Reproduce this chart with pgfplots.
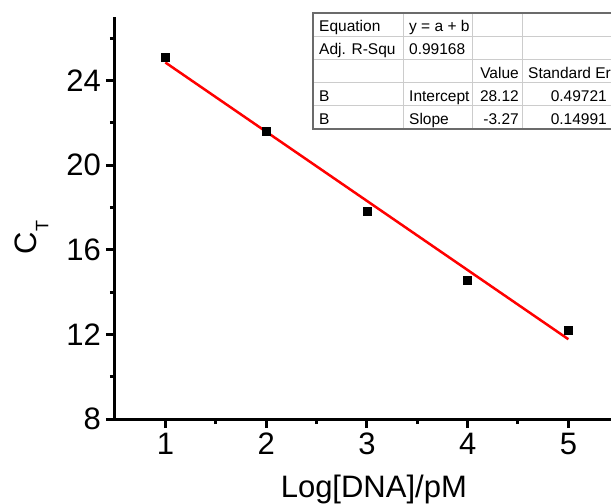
\documentclass[border=0pt]{standalone}
\usepackage{fontspec}
\setmainfont{Liberation Sans}
\usepackage{pgfplots}
\pgfplotsset{compat=1.18}
\definecolor{tabdark}{gray}{0.42}
\definecolor{tabgrid}{gray}{0.80}
\newcommand{\bigfont}{\fontsize{31bp}{36bp}\selectfont}
\newcommand{\tabfont}{\fontsize{15.5bp}{18bp}\selectfont}
\begin{document}
\begin{tikzpicture}
\useasboundingbox (-115bp,-85bp) rectangle (496bp,419bp);
\clip (-115bp,-85bp) rectangle (496bp,419bp);
\begin{axis}[
    scale only axis,
    width=498.7bp, height=402bp,
    xmin=0.5, xmax=5.45, ymin=8, ymax=27,
    axis x line*=bottom, axis y line*=left,
    axis line style={-, line width=3bp},
    xtick={1,2,3,4,5}, ytick={8,12,16,20,24},
    minor xtick={1.5,2.5,3.5,4.5}, minor ytick={10,14,18,22,26},
    tick align=outside, major tick length=9bp, minor tick length=5bp,
    every tick/.style={black, line width=3bp},
    tick label style={font=\bigfont, inner sep=0pt},
    xticklabel style={anchor=north, yshift=-5bp},
    yticklabel style={anchor=east, xshift=-5bp},
    /pgf/number format/assume math mode=true,
    xlabel={Log[DNA]/pM},
    xlabel style={font=\bigfont, anchor=base, inner sep=0pt,
      at={(axis description cs:0.519,-0.1965)}},
    ylabel={C\raisebox{-12bp}{\fontsize{18bp}{18bp}\selectfont T}},
    ylabel style={font=\bigfont, anchor=center, inner sep=0pt,
      at={(axis description cs:-0.1674,0.4515)}},
    clip=false,
  ]
  % measured points
  \addplot[only marks, mark=square*, mark size=4bp, black] coordinates {
    (1,25.12) (2,21.60) (3,17.80) (4,14.57) (5,12.20)};
  % linear fit y = 28.12 - 3.27 x
  \addplot[red, line width=2.5bp] coordinates {(1,24.85) (5,11.77)};
\end{axis}
% fit result table (image coordinates, bp)
\begin{scope}[x=1bp, y=1bp, shift={(-115bp,-85bp)}]
\fill[white] (313,375) rectangle (640,491);
\foreach \y in {467.8,444.6,421.4,398.2} \draw[tabgrid, line width=1bp] (313,\y) -- (640,\y);
\foreach \x in {404,473,523} \draw[tabgrid, line width=1bp] (\x,375) -- (\x,491);
\draw[tabdark, line width=1.5bp] (640,491) -- (313,491) -- (313,375) -- (640,375);
\begin{scope}[every node/.style={font=\tabfont, inner sep=0pt}]
  \node[anchor=base west] at (319,472.3) {Equation};
  \node[anchor=base west] at (409,472.3) {y = a + b};
  \node[anchor=base west] at (319,449.1) {Adj. R-Squ};
  \node[anchor=base west] at (409,449.1) {0.99168};
  \node[anchor=base east] at (519,425.9) {Value};
  \node[anchor=base west] at (528,425.9) {Standard Error};
  \node[anchor=base west] at (319,402.7) {B};
  \node[anchor=base west] at (409,402.7) {Intercept};
  \node[anchor=base east] at (519,402.7) {28.12};
  \node[anchor=base east] at (607,402.7) {0.49721};
  \node[anchor=base west] at (319,379.5) {B};
  \node[anchor=base west] at (409,379.5) {Slope};
  \node[anchor=base east] at (519,379.5) {-3.27};
  \node[anchor=base east] at (607,379.5) {0.14991};
\end{scope}
\end{scope}
\end{tikzpicture}
\end{document}
